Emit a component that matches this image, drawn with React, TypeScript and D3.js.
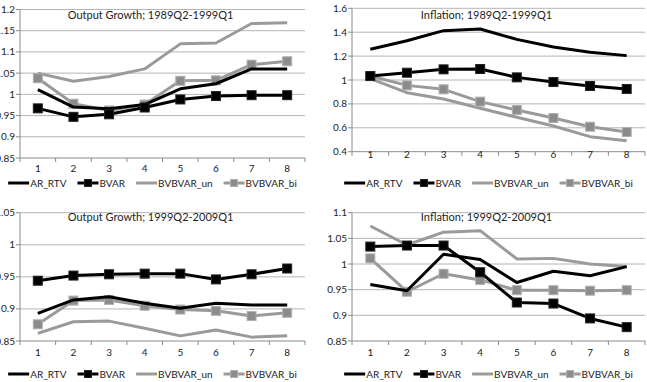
import React, { useEffect, useRef } from 'react';
import * as d3 from 'd3';

const horizons = ['1', '2', '3', '4', '5', '6', '7', '8'];
const seriesNames = ['AR_RTV', 'BVAR', 'BVBVAR_un', 'BVBVAR_bi'];

// Output growth 1989Q2-1999Q1
const og1_ar = [1.011, 0.970, 0.966, 0.976, 1.013, 1.025, 1.060, 1.060];
const og1_bvar = [0.967, 0.947, 0.953, 0.969, 0.988, 0.996, 0.998, 0.998];
const og1_un = [1.050, 1.031, 1.042, 1.060, 1.119, 1.121, 1.167, 1.169];
const og1_bi = [1.038, 0.978, 0.962, 0.976, 1.032, 1.033, 1.070, 1.078];

// Inflation 1989Q2-1999Q1
const inf1_ar = [1.257, 1.329, 1.413, 1.427, 1.340, 1.276, 1.232, 1.204];
const inf1_bvar = [1.033, 1.061, 1.089, 1.092, 1.022, 0.983, 0.950, 0.925];
const inf1_un = [1.011, 0.894, 0.841, 0.763, 0.688, 0.615, 0.526, 0.492];
const inf1_bi = [1.033, 0.955, 0.922, 0.819, 0.749, 0.682, 0.609, 0.565];

// Output growth 1999Q2-2009Q1
const og2_ar = [0.893, 0.914, 0.919, 0.909, 0.901, 0.909, 0.906, 0.906];
const og2_bvar = [0.944, 0.952, 0.954, 0.955, 0.955, 0.946, 0.954, 0.963];
const og2_un = [0.862, 0.880, 0.881, 0.870, 0.858, 0.867, 0.856, 0.858];
const og2_bi = [0.876, 0.913, 0.914, 0.905, 0.899, 0.897, 0.889, 0.894];

// Inflation 1999Q2-2009Q1
const inf2_ar = [0.960, 0.948, 1.019, 1.009, 0.964, 0.986, 0.977, 0.995];
const inf2_bvar = [1.034, 1.036, 1.036, 0.984, 0.925, 0.923, 0.894, 0.877];
const inf2_un = [1.074, 1.037, 1.062, 1.065, 1.010, 1.011, 1.000, 0.995];
const inf2_bi = [1.011, 0.946, 0.981, 0.969, 0.949, 0.949, 0.948, 0.949];

const FONT = 'Lato, "Open Sans", sans-serif';
const BLACK = '#000';
const GRAY = '#9a9a9a';

// style per series: colour, marker
const styles = [
  { color: BLACK, marker: false, fill: BLACK, edge: BLACK },
  { color: BLACK, marker: true, fill: BLACK, edge: '#222' },
  { color: GRAY, marker: false, fill: GRAY, edge: GRAY },
  { color: GRAY, marker: true, fill: '#8c8c8c', edge: '#b0b0b0' },
];

const panels = [
  { title: 'Output Growth; 1989Q2-1999Q1', data: [og1_ar, og1_bvar, og1_un, og1_bi], domain: [0.85, 1.2], step: 0.05,
    left: 20, right: 305, top: 9.5, bottom: 158, titleY: 19, xLabY: 172, legY: 183 },
  { title: 'Inflation; 1989Q2-1999Q1', data: [inf1_ar, inf1_bvar, inf1_un, inf1_bi], domain: [0.4, 1.6], step: 0.2,
    left: 352, right: 645, top: 8.3, bottom: 151.7, titleY: 19, xLabY: 158, legY: 183 },
  { title: 'Output Growth; 1999Q2-2009Q1', data: [og2_ar, og2_bvar, og2_un, og2_bi], domain: [0.85, 1.05], step: 0.05,
    left: 20, right: 305, top: 212.7, bottom: 341, titleY: 221, xLabY: 356, legY: 374 },
  { title: 'Inflation; 1999Q2-2009Q1', data: [inf2_ar, inf2_bvar, inf2_un, inf2_bi], domain: [0.85, 1.1], step: 0.05,
    left: 352, right: 645, top: 212.7, bottom: 341, titleY: 221, xLabY: 356, legY: 374 },
];

function App() {
  const ref = useRef<SVGSVGElement>(null);

  useEffect(() => {
    const svg = d3.select(ref.current);
    svg.selectAll('*').remove();

    panels.forEach((p) => {
      const g = svg.append('g');
      const x = d3.scaleBand().domain(horizons).range([p.left, p.right]);
      const y = d3.scaleLinear().domain(p.domain).range([p.bottom, p.top]);
      const n = Math.round((p.domain[1] - p.domain[0]) / p.step);
      const ticks = d3.range(n + 1).map((i) => +(p.domain[0] + i * p.step).toFixed(2));

      // grid
      g.selectAll('.grid').data(ticks.slice(1)).enter().append('line')
        .attr('x1', p.left).attr('x2', p.right)
        .attr('y1', (d) => y(d)).attr('y2', (d) => y(d))
        .attr('stroke', '#b4b4b4').attr('stroke-width', 1);

      // y axis
      g.append('line').attr('x1', p.left).attr('x2', p.left).attr('y1', p.top).attr('y2', p.bottom)
        .attr('stroke', '#8a8a8a');
      g.selectAll('.ytick').data(ticks).enter().append('line')
        .attr('x1', p.left - 4).attr('x2', p.left)
        .attr('y1', (d) => y(d)).attr('y2', (d) => y(d)).attr('stroke', '#8a8a8a');
      g.selectAll('.ylab').data(ticks).enter().append('text')
        .attr('x', p.left - 5).attr('y', (d) => y(d)).attr('dy', '0.35em')
        .attr('text-anchor', 'end').attr('font-size', 10).attr('font-family', FONT).attr('fill', '#222')
        .text((d) => String(d));

      // x axis
      g.append('line').attr('x1', p.left).attr('x2', p.right).attr('y1', p.bottom).attr('y2', p.bottom)
        .attr('stroke', '#8a8a8a');
      const bounds = d3.range(horizons.length + 1).map((i) => p.left + i * x.step());
      g.selectAll('.xtick').data(bounds).enter().append('line')
        .attr('x1', (d) => d).attr('x2', (d) => d).attr('y1', p.bottom).attr('y2', p.bottom + 4)
        .attr('stroke', '#8a8a8a');
      g.selectAll('.xlab').data(horizons).enter().append('text')
        .attr('x', (d) => (x(d) as number) + x.bandwidth() / 2).attr('y', p.xLabY)
        .attr('text-anchor', 'middle').attr('font-size', 10).attr('font-family', FONT).attr('fill', '#222')
        .text((d) => d);

      // title
      g.append('text').attr('x', (p.left + p.right) / 2 - 12).attr('y', p.titleY)
        .attr('text-anchor', 'middle').attr('font-size', 11).attr('font-family', FONT).attr('fill', '#222')
        .text(p.title);

      const line = d3.line<number>()
        .x((_, i) => (x(horizons[i]) as number) + x.bandwidth() / 2)
        .y((d) => y(d));

      // draw gray series first, then black, as in the original stacking
      [2, 3, 0, 1].forEach((si) => {
        const s = styles[si];
        const vals = p.data[si];
        g.append('path').datum(vals).attr('d', line)
          .attr('fill', 'none').attr('stroke', s.color).attr('stroke-width', 3)
          .attr('stroke-linejoin', 'round');
        if (s.marker) {
          g.selectAll('.m' + si).data(vals).enter().append('rect')
            .attr('x', (_, i) => (x(horizons[i]) as number) + x.bandwidth() / 2 - 4.5)
            .attr('y', (d) => y(d) - 4.5)
            .attr('width', 9).attr('height', 9)
            .attr('fill', s.fill).attr('stroke', s.edge).attr('stroke-width', 1);
        }
      });

      // legend
      const leg = g.append('g');
      let cx = 0;
      seriesNames.forEach((name, si) => {
        const s = styles[si];
        const it = leg.append('g').attr('transform', `translate(${cx},0)`);
        it.append('line').attr('x1', 0).attr('x2', 21).attr('y1', 0).attr('y2', 0)
          .attr('stroke', s.color).attr('stroke-width', 3);
        if (s.marker) {
          it.append('rect').attr('x', 7).attr('y', -3.5).attr('width', 7).attr('height', 7)
            .attr('fill', s.fill).attr('stroke', s.edge);
        }
        const t = it.append('text').attr('x', 22).attr('dy', '0.35em')
          .attr('font-size', 10).attr('font-family', FONT).attr('fill', '#222').text(name);
        const w = (t.node() as SVGTextElement).getComputedTextLength();
        cx += 22 + w + 11;
      });
      const total = cx - 11;
      leg.attr('transform', `translate(${(p.left + p.right) / 2 - total / 2 - 10},${p.legY})`);
    });
  }, []);

  return (
    <svg ref={ref} width={647} height={382}
      style={{ position: 'absolute', left: 0, top: 0, background: '#fff' }} />
  );
}

export default App;
